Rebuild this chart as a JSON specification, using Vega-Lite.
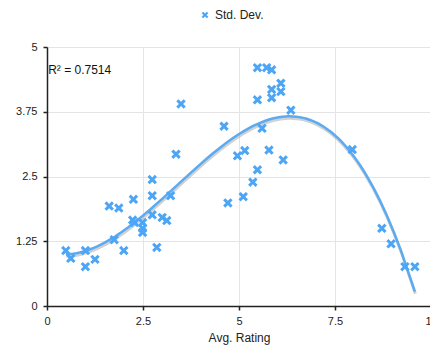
{
  "$schema": "https://vega.github.io/schema/vega-lite/v6.json",
  "autosize": {"type": "none"},
  "padding": {"left": 47, "top": 47, "right": 0, "bottom": 39},
  "width": 384,
  "height": 259,
  "config": {
    "font": "Liberation Sans",
    "view": {"stroke": null},
    "axis": {"labelFont": "Liberation Sans", "titleFont": "Liberation Sans", "labelColor": "#222", "titleColor": "#222", "gridColor": "#e4e4e4", "gridWidth": 1, "domainColor": "#222", "domainWidth": 1.5, "tickColor": "#222", "tickSize": 4, "tickWidth": 1.5, "labelFontSize": 11, "titleFontSize": 12, "titleFontWeight": "normal", "format": ".2~f", "grid": true, "labelFlush": false}
  },
  "datasets": {
    "pts": [
      {"rating": 0.49, "sd": 1.07, "series": "Std. Dev."},
      {"rating": 0.62, "sd": 0.92, "series": "Std. Dev."},
      {"rating": 1.0, "sd": 1.07, "series": "Std. Dev."},
      {"rating": 1.0, "sd": 0.76, "series": "Std. Dev."},
      {"rating": 1.25, "sd": 0.9, "series": "Std. Dev."},
      {"rating": 1.62, "sd": 1.93, "series": "Std. Dev."},
      {"rating": 1.75, "sd": 1.28, "series": "Std. Dev."},
      {"rating": 1.87, "sd": 1.89, "series": "Std. Dev."},
      {"rating": 2.0, "sd": 1.07, "series": "Std. Dev."},
      {"rating": 2.25, "sd": 2.06, "series": "Std. Dev."},
      {"rating": 2.23, "sd": 1.66, "series": "Std. Dev."},
      {"rating": 2.28, "sd": 1.61, "series": "Std. Dev."},
      {"rating": 2.49, "sd": 1.61, "series": "Std. Dev."},
      {"rating": 2.49, "sd": 1.5, "series": "Std. Dev."},
      {"rating": 2.49, "sd": 1.42, "series": "Std. Dev."},
      {"rating": 2.74, "sd": 2.44, "series": "Std. Dev."},
      {"rating": 2.74, "sd": 2.13, "series": "Std. Dev."},
      {"rating": 2.74, "sd": 1.76, "series": "Std. Dev."},
      {"rating": 2.86, "sd": 1.13, "series": "Std. Dev."},
      {"rating": 3.0, "sd": 1.71, "series": "Std. Dev."},
      {"rating": 3.12, "sd": 1.65, "series": "Std. Dev."},
      {"rating": 3.22, "sd": 2.13, "series": "Std. Dev."},
      {"rating": 3.36, "sd": 2.93, "series": "Std. Dev."},
      {"rating": 3.49, "sd": 3.9, "series": "Std. Dev."},
      {"rating": 4.61, "sd": 3.47, "series": "Std. Dev."},
      {"rating": 4.71, "sd": 1.99, "series": "Std. Dev."},
      {"rating": 4.96, "sd": 2.9, "series": "Std. Dev."},
      {"rating": 5.11, "sd": 2.11, "series": "Std. Dev."},
      {"rating": 5.15, "sd": 3.0, "series": "Std. Dev."},
      {"rating": 5.36, "sd": 2.39, "series": "Std. Dev."},
      {"rating": 5.48, "sd": 2.63, "series": "Std. Dev."},
      {"rating": 5.48, "sd": 3.98, "series": "Std. Dev."},
      {"rating": 5.48, "sd": 4.6, "series": "Std. Dev."},
      {"rating": 5.6, "sd": 3.43, "series": "Std. Dev."},
      {"rating": 5.72, "sd": 4.6, "series": "Std. Dev."},
      {"rating": 5.78, "sd": 3.01, "series": "Std. Dev."},
      {"rating": 5.85, "sd": 4.56, "series": "Std. Dev."},
      {"rating": 5.85, "sd": 4.18, "series": "Std. Dev."},
      {"rating": 5.85, "sd": 4.02, "series": "Std. Dev."},
      {"rating": 6.09, "sd": 4.3, "series": "Std. Dev."},
      {"rating": 6.09, "sd": 4.14, "series": "Std. Dev."},
      {"rating": 6.15, "sd": 2.82, "series": "Std. Dev."},
      {"rating": 6.35, "sd": 3.78, "series": "Std. Dev."},
      {"rating": 7.95, "sd": 3.02, "series": "Std. Dev."},
      {"rating": 8.72, "sd": 1.5, "series": "Std. Dev."},
      {"rating": 8.96, "sd": 1.2, "series": "Std. Dev."},
      {"rating": 9.32, "sd": 0.76, "series": "Std. Dev."},
      {"rating": 9.58, "sd": 0.76, "series": "Std. Dev."}
    ],
    "note": [{"label": "R² = 0.7514", "rx": 0.03, "ry": 4.55}]
  },
  "layer": [
    {
      "data": {"name": "pts"},
      "transform": [{"regression": "sd", "on": "rating", "method": "poly", "order": 3}],
      "mark": {"type": "line", "color": "#9a9a9a", "strokeWidth": 3, "opacity": 0.45, "yOffset": 2, "xOffset": 0.5, "clip": true},
      "encoding": {
        "x": {"field": "rating", "type": "quantitative", "title": "Avg. Rating", "scale": {"domain": [0, 10], "nice": false}, "axis": {"values": [0, 2.5, 5, 7.5, 10], "labelPadding": 5, "titlePadding": 6}},
        "y": {"field": "sd", "type": "quantitative", "title": null, "scale": {"domain": [0, 5], "nice": false}, "axis": {"values": [0, 1.25, 2.5, 3.75, 5], "labelPadding": 6}}
      }
    },
    {
      "data": {"name": "pts"},
      "transform": [{"regression": "sd", "on": "rating", "method": "poly", "order": 3}],
      "mark": {"type": "line", "color": "#5aabf2", "strokeWidth": 2.5, "clip": true},
      "encoding": {
        "x": {"field": "rating", "type": "quantitative", "title": "Avg. Rating", "scale": {"domain": [0, 10], "nice": false}, "axis": {"values": [0, 2.5, 5, 7.5, 10], "labelPadding": 5, "titlePadding": 6}},
        "y": {"field": "sd", "type": "quantitative", "title": null, "scale": {"domain": [0, 5], "nice": false}, "axis": {"values": [0, 1.25, 2.5, 3.75, 5], "labelPadding": 6}}
      }
    },
    {
      "data": {"name": "pts"},
      "mark": {"type": "point", "filled": true, "opacity": 1, "size": 90, "strokeWidth": 0},
      "encoding": {
        "x": {"field": "rating", "type": "quantitative", "title": "Avg. Rating", "scale": {"domain": [0, 10], "nice": false}, "axis": {"values": [0, 2.5, 5, 7.5, 10], "labelPadding": 5, "titlePadding": 6}},
        "y": {"field": "sd", "type": "quantitative", "title": null, "scale": {"domain": [0, 5], "nice": false}, "axis": {"values": [0, 1.25, 2.5, 3.75, 5], "labelPadding": 6}},
        "color": {"field": "series", "type": "nominal", "scale": {"range": ["#4da6f5"]},
          "legend": {"title": null, "orient": "none", "legendX": 152, "legendY": -38, "labelFontSize": 12, "labelColor": "#222", "symbolSize": 45, "labelFont": "Liberation Sans"}},
        "shape": {"field": "series", "type": "nominal",
          "scale": {"range": ["M-1,-0.55L-0.55,-1L0,-0.45L0.55,-1L1,-0.55L0.45,0L1,0.55L0.55,1L0,0.45L-0.55,1L-1,0.55L-0.45,0Z"]},
          "legend": null}
      }
    },
    {
      "data": {"name": "note"},
      "mark": {"type": "text", "align": "left", "baseline": "middle", "fontSize": 12, "color": "#111", "font": "Liberation Sans"},
      "encoding": {
        "x": {"field": "rx", "type": "quantitative", "title": "Avg. Rating", "scale": {"domain": [0, 10], "nice": false}, "axis": {"values": [0, 2.5, 5, 7.5, 10], "labelPadding": 5, "titlePadding": 6}},
        "y": {"field": "ry", "type": "quantitative", "title": null, "scale": {"domain": [0, 5], "nice": false}, "axis": {"values": [0, 1.25, 2.5, 3.75, 5], "labelPadding": 6}},
        "text": {"field": "label", "type": "nominal"}
      }
    }
  ]
}
